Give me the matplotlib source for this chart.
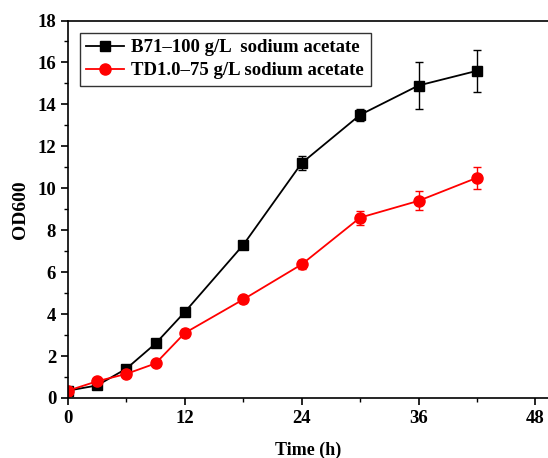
import numpy as np
import matplotlib
matplotlib.use('Agg')
import matplotlib.pyplot as plt
from matplotlib.ticker import MultipleLocator
from matplotlib.lines import Line2D

# Datos
time_h = [0, 3, 6, 9, 12, 18, 24, 30, 36, 42]
od_b71 = [0.35, 0.6, 1.4, 2.6, 4.1, 7.3, 11.2, 13.5, 14.9, 15.6]
err_b71 = [0.05, 0.05, 0.1, 0.1, 0.1, 0.1, 0.33, 0.3, 1.1, 1.0]
od_td = [0.35, 0.8, 1.15, 1.65, 3.1, 4.7, 6.37, 8.6, 9.4, 10.5]
err_td = [0.05, 0.08, 0.08, 0.08, 0.2, 0.15, 0.2, 0.33, 0.45, 0.53]

label_b71 = 'B71\u2013100 g/L  sodium acetate'
label_td = 'TD1.0\u201375 g/L sodium acetate'

plt.rcParams['font.family'] = ['Liberation Serif', 'DejaVu Serif']
plt.rcParams['font.weight'] = 'bold'

fig = plt.figure(figsize=(5.48, 4.58), dpi=100)
ax = fig.add_axes([68/548, 1 - 398/458, 1 - 68/548, (398 - 20.5)/458])

ax.errorbar(time_h, od_b71, yerr=err_b71, color='black', marker='s', ms=7,
            lw=1.3, capsize=3, elinewidth=1.0, capthick=1.0)
ax.errorbar(time_h, od_td, yerr=err_td, color='red', marker='o', ms=8,
            lw=1.3, capsize=3, elinewidth=1.0, capthick=1.0)

ax.set_xlim(0, 49.3)
ax.set_ylim(0, 18)
ax.xaxis.set_major_locator(MultipleLocator(12))
ax.xaxis.set_minor_locator(MultipleLocator(6))
ax.yaxis.set_major_locator(MultipleLocator(2))
ax.yaxis.set_minor_locator(MultipleLocator(1))
ax.tick_params(which='major', direction='out', length=5, width=1.2, labelsize=13.5)
ax.tick_params(which='minor', direction='out', length=3, width=1.0)
ax.spines['right'].set_visible(False)
for s in ['left', 'bottom', 'top']:
    ax.spines[s].set_linewidth(1.2)
for lab in ax.get_xticklabels() + ax.get_yticklabels():
    lab.set_fontweight('bold')

ax.set_xlabel('Time (h)', fontsize=13, fontweight='bold', labelpad=11)
ax.set_ylabel('OD600', fontsize=14, fontweight='bold', labelpad=6)

handles = [Line2D([], [], color='black', marker='s', ms=7, lw=1.3),
           Line2D([], [], color='red', marker='o', ms=8, lw=1.3)]
leg = ax.legend(handles, [label_b71, label_td], loc='upper left',
                bbox_to_anchor=(0.017, 0.978), fontsize=13.5,
                frameon=True, fancybox=False, edgecolor='black',
                handlelength=2.0, handletextpad=0.4, borderpad=0.35,
                labelspacing=0.32, borderaxespad=0.2)
leg.get_frame().set_linewidth(1.0)
for t in leg.get_texts():
    t.set_fontweight('bold')

fig.savefig('out.png', dpi=100)
